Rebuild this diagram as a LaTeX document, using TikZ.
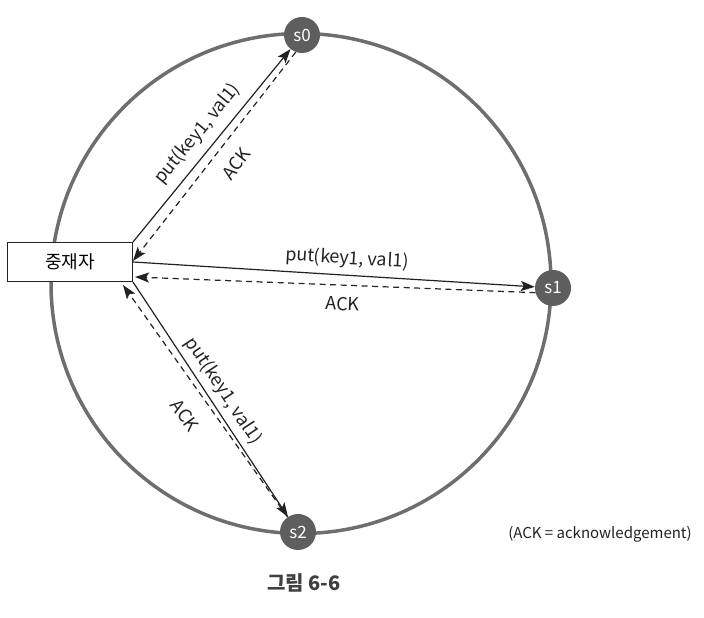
\documentclass[tikz,border=0pt]{standalone}
\usepackage{fontspec}
\setmainfont{Noto Sans CJK KR}
\usetikzlibrary{arrows.meta}
\definecolor{ringgray}{HTML}{6E6E6E}
\definecolor{nodegray}{HTML}{5E5E5E}
\definecolor{inkgray}{HTML}{222222}

\begin{document}
\begin{tikzpicture}[x=1pt, y=1pt,
    % Define the style for the servers on the ring
    server/.style={
        circle,
        fill=nodegray,
        text=white,
        minimum size=36pt,
        inner sep=0pt,
        font=\fontsize{17}{17}\selectfont
    },
    % Define the style for the coordinator box
    block/.style={
        rectangle,
        draw=inkgray,
        fill=white,
        line width=1pt,
        minimum width=125pt,
        minimum height=39pt,
        font=\fontsize{18}{18}\selectfont
    },
    % Define the style for the arrows
    line/.style={
        draw=inkgray,
        -{Stealth[length=14pt, width=10pt, inset=3pt]},
        line width=1.2pt
    },
    reply/.style={
        line,
        dash pattern=on 6pt off 4.5pt
    },
    tag/.style={
        font=\fontsize{18}{18}\selectfont,
        text=inkgray,
        sloped
    }
]

    \useasboundingbox (0,0) rectangle (704,618);

    % The ring
    \draw [ringgray, line width=3.5pt] (301,334.5) circle [radius=250pt];

    % Place the nodes
    \node [block] (coord) at (70,356) {중재자};
    \node [server] (s0) at (302,583) {s0};
    \node [server] (s1) at (553,330) {s1};
    \node [server] (s2) at (298,86) {s2};

    % Draw the arrows
    \path [line] (coord.north east) -- node [tag, pos=0.5, above=5pt] {put(key1, val1)} (s0);
    \path [reply] (s0.250) -- node [tag, pos=0.47, below=11pt] {ACK} ([yshift=1pt]coord.east);
    \path [line] (coord.east) -- node [tag, pos=0.53, above=3pt] {put(key1, val1)} (s1);
    \path [reply] (s1.195) -- node [tag, pos=0.48, below=8pt] {ACK} ([xshift=2pt, yshift=5pt]coord.south east);
    \path [line] (coord.south east) -- node [tag, pos=0.5, above=2pt] {put(key1, val1)} (s2);
    \path [reply] (s2.125) -- node [tag, pos=0.5, below=14pt] {ACK} ([xshift=-10pt, yshift=-3pt]coord.south east);

    % Notes
    \node [font=\fontsize{15}{15}\selectfont, text=inkgray] (note) at (600,84) {(ACK = acknowledgement)};
    \node [font=\bfseries\fontsize{20}{20}\selectfont, text=black!75] (caption) at (304,35) {그림 6-6};

\end{tikzpicture}
\end{document}
